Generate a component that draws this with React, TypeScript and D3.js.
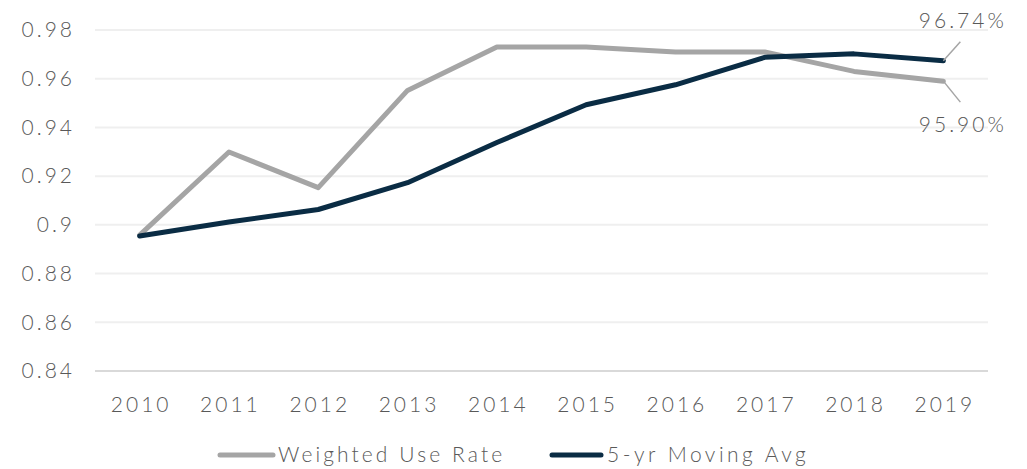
import React from 'react';
import * as d3 from 'd3';

const years = ['2010', '2011', '2012', '2013', '2014', '2015', '2016', '2017', '2018', '2019'];
const weightedUseRate = [0.8958, 0.9299, 0.9153, 0.9552, 0.9730, 0.9730, 0.9710, 0.9710, 0.9630, 0.9590];
const movingAvg = [0.8954, 0.9012, 0.9063, 0.9173, 0.9338, 0.9493, 0.9575, 0.9688, 0.9702, 0.9674];
const yTicks = [0.84, 0.86, 0.88, 0.9, 0.92, 0.94, 0.96, 0.98];

const W = 1027;
const H = 469;
const font = 'Lato, "DejaVu Sans", sans-serif';
const textColor = '#595959';
const grayColor = '#a5a5a5';
const navyColor = '#0a2c44';
const numSpacing = 3;

export default function App() {
  const x = d3.scaleBand().domain(years).range([95, 988]);
  const y = d3.scaleLinear().domain([0.84, 0.98]).range([371, 30]);
  const cx = (d: string) => (x(d) as number) + x.bandwidth() / 2;

  const line = d3.line<number>()
    .x((_, i) => cx(years[i]))
    .y(d => y(d));

  const lastX = cx(years[years.length - 1]);
  const lastAvg = y(movingAvg[movingAvg.length - 1]);
  const lastRate = y(weightedUseRate[weightedUseRate.length - 1]);

  const txt = { fontFamily: font, fontWeight: 300, fontSize: 21, fill: textColor };

  return (
    <svg width={W} height={H} style={{ position: 'absolute', left: 0, top: 0, background: '#fff' }}>
      {yTicks.map(t => (
        <g key={t}>
          <line x1={95} x2={988} y1={y(t)} y2={y(t)}
            stroke={t === 0.84 ? '#d9d9d9' : '#efefef'} strokeWidth={2} />
          <text x={72 + numSpacing} y={y(t)} dy="0.35em" textAnchor="end" letterSpacing={numSpacing} {...txt}>
            {String(t)}
          </text>
        </g>
      ))}
      {years.map(yr => (
        <text key={yr} x={cx(yr) + numSpacing / 2} y={412} textAnchor="middle" letterSpacing={numSpacing} {...txt}>
          {yr}
        </text>
      ))}
      <path d={line(weightedUseRate) as string} fill="none" stroke={grayColor} strokeWidth={5}
        strokeLinejoin="round" strokeLinecap="round" />
      <path d={line(movingAvg) as string} fill="none" stroke={navyColor} strokeWidth={5}
        strokeLinejoin="round" strokeLinecap="round" />

      <line x1={lastX} y1={lastAvg} x2={lastX + 17} y2={lastAvg - 19} stroke={grayColor} strokeWidth={1.5} />
      <text x={lastX + 18 + numSpacing / 2} y={28} textAnchor="middle" letterSpacing={numSpacing} {...txt}>96.74%</text>
      <line x1={lastX} y1={lastRate} x2={lastX + 17} y2={lastRate + 21} stroke={grayColor} strokeWidth={1.5} />
      <text x={lastX + 18 + numSpacing / 2} y={132} textAnchor="middle" letterSpacing={numSpacing} {...txt}>95.90%</text>

      <g>
        <line x1={220} x2={273} y1={455} y2={455} stroke={grayColor} strokeWidth={5} strokeLinecap="round" />
        <text x={278} y={455} dy="0.35em" letterSpacing={3.1} {...txt}>Weighted Use Rate</text>
        <line x1={552} x2={601} y1={455} y2={455} stroke={navyColor} strokeWidth={5} strokeLinecap="round" />
        <text x={607} y={455} dy="0.35em" letterSpacing={3.5} {...txt}>5-yr Moving Avg</text>
      </g>
    </svg>
  );
}
